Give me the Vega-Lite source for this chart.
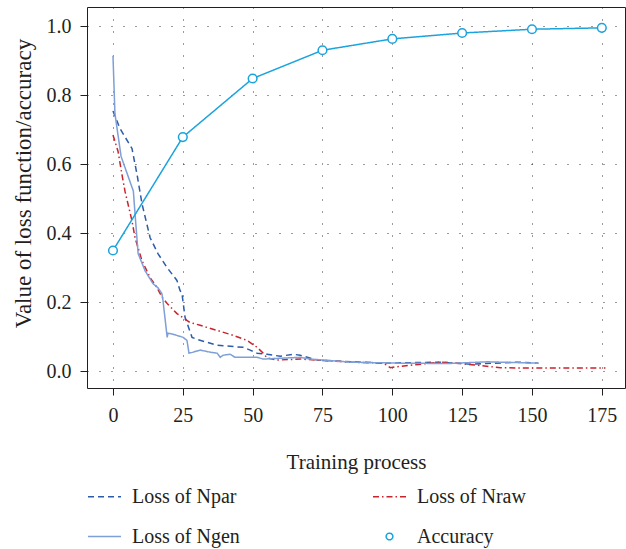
{
  "$schema": "https://vega.github.io/schema/vega-lite/v6.json",
  "autosize": "none",
  "width": 538,
  "height": 381,
  "padding": {"left": 87, "top": 7, "right": 1, "bottom": 161},
  "background": "white",
  "config": {
    "font": "Liberation Serif",
    "view": {"stroke": "#231f20", "strokeWidth": 1},
    "axis": {
      "labelFont": "Liberation Serif",
      "titleFont": "Liberation Serif",
      "labelColor": "#231f20",
      "titleColor": "#231f20",
      "labelFontSize": 20,
      "titleFontSize": 21,
      "titleFontWeight": "normal",
      "domain": false,
      "tickColor": "#231f20",
      "tickSize": 7,
      "grid": true,
      "gridColor": "#231f20",
      "gridDash": [1, 11],
      "gridWidth": 1,
      "gridOpacity": 0.9
    },
    "legend": {
      "labelFont": "Liberation Serif",
      "labelFontSize": 20,
      "labelColor": "#231f20"
    }
  },
  "data": {
    "values": [
      {"series": "Loss of Npar", "step": 0, "value": 0.755},
      {"series": "Loss of Npar", "step": 2.5, "value": 0.704},
      {"series": "Loss of Npar", "step": 6.8, "value": 0.646},
      {"series": "Loss of Npar", "step": 8.6, "value": 0.571},
      {"series": "Loss of Npar", "step": 10.4, "value": 0.485},
      {"series": "Loss of Npar", "step": 13.3, "value": 0.387},
      {"series": "Loss of Npar", "step": 16.1, "value": 0.341},
      {"series": "Loss of Npar", "step": 19.4, "value": 0.3},
      {"series": "Loss of Npar", "step": 22.9, "value": 0.263},
      {"series": "Loss of Npar", "step": 24.0, "value": 0.234},
      {"series": "Loss of Npar", "step": 24.7, "value": 0.225},
      {"series": "Loss of Npar", "step": 25.8, "value": 0.156},
      {"series": "Loss of Npar", "step": 28.3, "value": 0.098},
      {"series": "Loss of Npar", "step": 30.1, "value": 0.092},
      {"series": "Loss of Npar", "step": 37.3, "value": 0.075},
      {"series": "Loss of Npar", "step": 46.6, "value": 0.069},
      {"series": "Loss of Npar", "step": 49.1, "value": 0.061},
      {"series": "Loss of Npar", "step": 51.6, "value": 0.052},
      {"series": "Loss of Npar", "step": 55.2, "value": 0.049},
      {"series": "Loss of Npar", "step": 59.9, "value": 0.043},
      {"series": "Loss of Npar", "step": 64.5, "value": 0.049},
      {"series": "Loss of Npar", "step": 67, "value": 0.046},
      {"series": "Loss of Npar", "step": 73.1, "value": 0.032},
      {"series": "Loss of Npar", "step": 96.8, "value": 0.023},
      {"series": "Loss of Npar", "step": 117.2, "value": 0.026},
      {"series": "Loss of Npar", "step": 128, "value": 0.02},
      {"series": "Loss of Npar", "step": 144.8, "value": 0.026},
      {"series": "Loss of Npar", "step": 152.3, "value": 0.023},

      {"series": "Loss of Nraw", "step": 0, "value": 0.685},
      {"series": "Loss of Nraw", "step": 1.8, "value": 0.638},
      {"series": "Loss of Nraw", "step": 3.2, "value": 0.571},
      {"series": "Loss of Nraw", "step": 4.3, "value": 0.522},
      {"series": "Loss of Nraw", "step": 6.8, "value": 0.436},
      {"series": "Loss of Nraw", "step": 7.9, "value": 0.387},
      {"series": "Loss of Nraw", "step": 10.4, "value": 0.32},
      {"series": "Loss of Nraw", "step": 13.3, "value": 0.271},
      {"series": "Loss of Nraw", "step": 15.8, "value": 0.242},
      {"series": "Loss of Nraw", "step": 17.6, "value": 0.214},
      {"series": "Loss of Nraw", "step": 19.4, "value": 0.196},
      {"series": "Loss of Nraw", "step": 22.9, "value": 0.167},
      {"series": "Loss of Nraw", "step": 27.6, "value": 0.141},
      {"series": "Loss of Nraw", "step": 31.2, "value": 0.133},
      {"series": "Loss of Nraw", "step": 37.3, "value": 0.118},
      {"series": "Loss of Nraw", "step": 43, "value": 0.104},
      {"series": "Loss of Nraw", "step": 48, "value": 0.089},
      {"series": "Loss of Nraw", "step": 51.6, "value": 0.069},
      {"series": "Loss of Nraw", "step": 53.8, "value": 0.052},
      {"series": "Loss of Nraw", "step": 55.2, "value": 0.038},
      {"series": "Loss of Nraw", "step": 58.8, "value": 0.032},
      {"series": "Loss of Nraw", "step": 67, "value": 0.035},
      {"series": "Loss of Nraw", "step": 85, "value": 0.026},
      {"series": "Loss of Nraw", "step": 96.8, "value": 0.023},
      {"series": "Loss of Nraw", "step": 99.3, "value": 0.01},
      {"series": "Loss of Nraw", "step": 101, "value": 0.012},
      {"series": "Loss of Nraw", "step": 106.5, "value": 0.017},
      {"series": "Loss of Nraw", "step": 117.2, "value": 0.026},
      {"series": "Loss of Nraw", "step": 123.3, "value": 0.023},
      {"series": "Loss of Nraw", "step": 130.5, "value": 0.017},
      {"series": "Loss of Nraw", "step": 138.7, "value": 0.01},
      {"series": "Loss of Nraw", "step": 147, "value": 0.009},
      {"series": "Loss of Nraw", "step": 159, "value": 0.009},
      {"series": "Loss of Nraw", "step": 176.3, "value": 0.009},

      {"series": "Loss of Ngen", "step": 0, "value": 0.915},
      {"series": "Loss of Ngen", "step": 0.7, "value": 0.747},
      {"series": "Loss of Ngen", "step": 2.9, "value": 0.623},
      {"series": "Loss of Ngen", "step": 7.3, "value": 0.522},
      {"series": "Loss of Ngen", "step": 7.9, "value": 0.456},
      {"series": "Loss of Ngen", "step": 9.0, "value": 0.341},
      {"series": "Loss of Ngen", "step": 11.5, "value": 0.291},
      {"series": "Loss of Ngen", "step": 14.3, "value": 0.254},
      {"series": "Loss of Ngen", "step": 16.1, "value": 0.242},
      {"series": "Loss of Ngen", "step": 17.5, "value": 0.225},
      {"series": "Loss of Ngen", "step": 17.9, "value": 0.205},
      {"series": "Loss of Ngen", "step": 19.4, "value": 0.098},
      {"series": "Loss of Ngen", "step": 19.7, "value": 0.11},
      {"series": "Loss of Ngen", "step": 21.5, "value": 0.107},
      {"series": "Loss of Ngen", "step": 25.1, "value": 0.098},
      {"series": "Loss of Ngen", "step": 26.5, "value": 0.089},
      {"series": "Loss of Ngen", "step": 27.2, "value": 0.052},
      {"series": "Loss of Ngen", "step": 28.7, "value": 0.055},
      {"series": "Loss of Ngen", "step": 31.2, "value": 0.061},
      {"series": "Loss of Ngen", "step": 34.8, "value": 0.055},
      {"series": "Loss of Ngen", "step": 37.3, "value": 0.052},
      {"series": "Loss of Ngen", "step": 38.4, "value": 0.04},
      {"series": "Loss of Ngen", "step": 39.4, "value": 0.046},
      {"series": "Loss of Ngen", "step": 41.9, "value": 0.049},
      {"series": "Loss of Ngen", "step": 43.7, "value": 0.04},
      {"series": "Loss of Ngen", "step": 48, "value": 0.04},
      {"series": "Loss of Ngen", "step": 51.6, "value": 0.04},
      {"series": "Loss of Ngen", "step": 53.8, "value": 0.035},
      {"series": "Loss of Ngen", "step": 67, "value": 0.04},
      {"series": "Loss of Ngen", "step": 70.6, "value": 0.035},
      {"series": "Loss of Ngen", "step": 85, "value": 0.026},
      {"series": "Loss of Ngen", "step": 102.9, "value": 0.023},
      {"series": "Loss of Ngen", "step": 120, "value": 0.022},
      {"series": "Loss of Ngen", "step": 134, "value": 0.027},
      {"series": "Loss of Ngen", "step": 152.3, "value": 0.023},

      {"series": "Accuracy", "step": 0, "value": 0.35},
      {"series": "Accuracy", "step": 25, "value": 0.679},
      {"series": "Accuracy", "step": 50, "value": 0.849},
      {"series": "Accuracy", "step": 75, "value": 0.931},
      {"series": "Accuracy", "step": 100, "value": 0.964},
      {"series": "Accuracy", "step": 125, "value": 0.981},
      {"series": "Accuracy", "step": 150, "value": 0.992},
      {"series": "Accuracy", "step": 175, "value": 0.996}
    ]
  },
  "encoding": {
    "x": {
      "field": "step",
      "type": "quantitative",
      "scale": {"domain": [-9.3, 183.3], "nice": false, "zero": false},
      "axis": {
        "title": "Training process",
        "values": [0, 25, 50, 75, 100, 125, 150, 175],
        "labelPadding": 10,
        "titlePadding": 26
      }
    },
    "y": {
      "field": "value",
      "type": "quantitative",
      "scale": {"domain": [-0.049, 1.0565], "nice": false, "zero": false},
      "axis": {
        "title": "Value of loss function/accuracy",
        "titleFontSize": 23,
        "titleY": 176,
        "values": [0, 0.2, 0.4, 0.6, 0.8, 1.0],
        "format": ".1f",
        "labelPadding": 9,
        "titlePadding": 11
      }
    }
  },
  "layer": [
    {
      "mark": {"type": "line", "strokeWidth": 1.5, "clip": true},
      "encoding": {
        "color": {
          "field": "series",
          "type": "nominal",
          "scale": {
            "domain": ["Loss of Npar", "Loss of Ngen", "Loss of Nraw", "Accuracy"],
            "range": ["#2c5ca8", "#7e9fd7", "#c9232c", "#1ba3dd"]
          },
          "legend": {
            "title": null,
            "orient": "none",
            "legendX": 0,
            "legendY": 472,
            "columns": 2,
            "columnPadding": 130,
            "rowPadding": 12,
            "symbolType": "stroke",
            "symbolSize": 1089,
            "symbolStrokeWidth": 1.5,
            "labelOffset": 10,
            "labelLimit": 300,
            "encode": {
              "symbols": {
                "update": {
                  "shape": {"signal": "datum.value === 'Accuracy' ? 'circle' : 'stroke'"},
                  "size": {"signal": "datum.value === 'Accuracy' ? 45 : 1089"},
                  "strokeDash": {"signal": "datum.value === 'Loss of Npar' ? [6, 4] : datum.value === 'Loss of Nraw' ? [6, 3, 1.5, 3] : [1, 0]"},
                  "fill": {"value": "transparent"},
                  "strokeWidth": {"value": 1.5},
                  "opacity": {"value": 1}
                }
              }
            }
          }
        },
        "strokeDash": {
          "field": "series",
          "type": "nominal",
          "scale": {
            "domain": ["Loss of Npar", "Loss of Ngen", "Loss of Nraw", "Accuracy"],
            "range": [[6, 4], [1, 0], [6, 3, 1.5, 3], [1, 0]]
          },
          "legend": null
        },
        "order": {"field": "step", "type": "quantitative"}
      }
    },
    {
      "transform": [{"filter": "datum.series === 'Accuracy'"}],
      "mark": {"type": "point", "filled": false, "size": 75, "strokeWidth": 1.5, "color": "#1ba3dd", "fill": "white", "fillOpacity": 1, "opacity": 1}
    }
  ]
}
